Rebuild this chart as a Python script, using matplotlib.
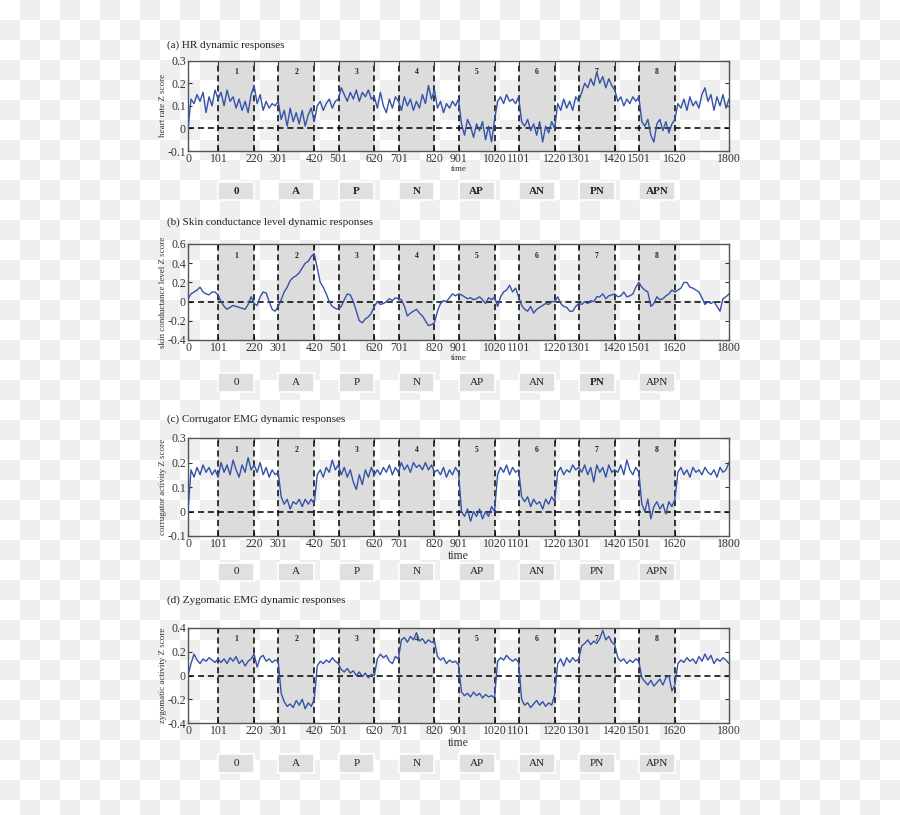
import numpy as np
import matplotlib
matplotlib.use('Agg')
import matplotlib.pyplot as plt
from matplotlib.colors import ListedColormap
from matplotlib.patches import Rectangle
from matplotlib.transforms import blended_transform_factory

plt.rcParams['font.family'] = ['Liberation Serif', 'DejaVu Serif']

# Z score traces, read every 10 time units from 0 to 1800
hr = [0.00,
      0.13, 0.11, 0.15, 0.12, 0.16, 0.07, 0.14, 0.10, 0.17, 0.13,
      0.16, 0.10, 0.17, 0.12, 0.14, 0.09, 0.13, 0.08, 0.12, 0.07, 0.15, 0.19,
      0.11, 0.15, 0.08, 0.12, 0.09, 0.11, 0.10, 0.12,
      0.04, 0.08, 0.01, 0.09, 0.03, 0.07, 0.02, 0.08, 0.01, 0.06, 0.09, 0.03,
      0.10, 0.12, 0.08, 0.11, 0.13, 0.09, 0.12, 0.13,
      0.18, 0.15, 0.12, 0.16, 0.13, 0.17, 0.12, 0.16, 0.14, 0.17, 0.13, 0.14,
      0.09, 0.16, 0.10, 0.07, 0.13, 0.09, 0.14, 0.12,
      0.08, 0.14, 0.10, 0.13, 0.08, 0.12, 0.09, 0.15, 0.11, 0.19, 0.13, 0.17,
      0.09, 0.12, 0.07, 0.11, 0.09, 0.12, 0.10, 0.13,
      0.02, -0.03, 0.04, 0.01, -0.04, 0.02, -0.01, 0.03, -0.05, 0.01, -0.06, 0.04,
      0.12, 0.14, 0.11, 0.15, 0.12, 0.13, 0.11, 0.14,
      0.03, 0.01, 0.04, -0.01, 0.02, -0.03, 0.03, -0.06, 0.01, -0.02, 0.03, 0.00,
      0.11, 0.08, 0.13, 0.09, 0.12, 0.08, 0.14, 0.12,
      0.16, 0.20, 0.18, 0.22, 0.19, 0.25, 0.20, 0.23, 0.18, 0.22, 0.19, 0.17,
      0.12, 0.14, 0.10, 0.13, 0.11, 0.14, 0.12, 0.14,
      0.03, 0.01, 0.04, -0.03, -0.06, 0.02, 0.04, -0.01, 0.03, -0.02, 0.02, 0.04,
      0.11, 0.09, 0.13, 0.08, 0.14, 0.10, 0.12, 0.09, 0.15, 0.18, 0.12, 0.15,
      0.08, 0.14, 0.10, 0.15, 0.09, 0.13]

scl = [0.03,
       0.08, 0.10, 0.12, 0.15, 0.10, 0.08, 0.07, 0.10, 0.10, 0.07,
       0.00, -0.05, -0.08, -0.06, -0.04, -0.05, -0.06, -0.07, -0.08, -0.03, 0.05, -0.02,
       -0.04, 0.05, 0.10, 0.09, 0.00, -0.08, -0.10, -0.05,
       0.02, 0.10, 0.15, 0.22, 0.25, 0.27, 0.30, 0.35, 0.40, 0.42, 0.47, 0.50,
       0.35, 0.20, 0.15, 0.08, 0.00, -0.05, -0.07, -0.08,
       -0.05, 0.02, 0.08, 0.07, 0.00, -0.10, -0.20, -0.22, -0.18, -0.16, -0.12, -0.05,
       0.00, -0.03, -0.02, 0.00, 0.03, 0.01, 0.04, 0.03,
       0.02, -0.05, -0.15, -0.12, -0.10, -0.08, -0.12, -0.15, -0.20, -0.25, -0.24, -0.22,
       -0.10, -0.02, 0.01, 0.00, 0.04, 0.08, 0.06, 0.08,
       0.07, 0.05, 0.03, 0.04, 0.02, 0.03, 0.05, 0.02, -0.02, 0.04, 0.02, 0.05,
       -0.05, 0.05, 0.10, 0.12, 0.17, 0.10, 0.14, 0.05,
       -0.04, -0.08, -0.10, -0.05, -0.12, -0.08, -0.06, -0.04, -0.02, -0.03, 0.00, 0.00,
       0.05, -0.02, -0.05, -0.06, -0.10, -0.10, -0.05, -0.02,
       -0.03, 0.00, -0.02, 0.01, 0.00, 0.05, 0.05, 0.08, 0.03, 0.06, 0.07, 0.08,
       0.05, 0.06, 0.10, 0.05, 0.06, 0.08, 0.15, 0.20,
       0.15, 0.12, 0.10, -0.05, -0.02, 0.05, 0.02, 0.03, 0.06, 0.08, 0.12, 0.10,
       0.12, 0.14, 0.20, 0.20, 0.15, 0.14, 0.12, 0.10, 0.04, -0.03, 0.00, -0.02,
       0.00, -0.05, -0.10, 0.03, 0.05, 0.08]

corr = [0.00,
        0.17, 0.14, 0.18, 0.15, 0.19, 0.16, 0.18, 0.15, 0.17, 0.14,
        0.20, 0.16, 0.19, 0.15, 0.21, 0.17, 0.14, 0.19, 0.16, 0.22, 0.17, 0.19,
        0.16, 0.20, 0.15, 0.18, 0.14, 0.17, 0.15, 0.16,
        0.06, 0.03, 0.05, 0.01, 0.04, 0.03, 0.05, 0.02, 0.05, 0.03, 0.05, 0.03,
        0.15, 0.17, 0.14, 0.18, 0.16, 0.21, 0.17, 0.19,
        0.15, 0.18, 0.14, 0.17, 0.12, 0.09, 0.15, 0.11, 0.17, 0.14, 0.18, 0.15,
        0.17, 0.15, 0.18, 0.16, 0.19, 0.15, 0.18, 0.16,
        0.20, 0.17, 0.19, 0.16, 0.20, 0.18, 0.19, 0.17, 0.20, 0.17, 0.19, 0.16,
        0.17, 0.15, 0.18, 0.14, 0.17, 0.15, 0.18, 0.16,
        0.00, -0.02, 0.01, -0.04, 0.00, -0.02, 0.01, -0.03, 0.00, -0.02, 0.02, 0.00,
        0.15, 0.18, 0.16, 0.19, 0.15, 0.18, 0.16, 0.17,
        0.06, 0.04, 0.06, 0.02, 0.05, 0.03, 0.04, 0.01, 0.05, 0.03, 0.06, 0.04,
        0.16, 0.18, 0.15, 0.17, 0.16, 0.19, 0.17, 0.18,
        0.16, 0.19, 0.15, 0.18, 0.12, 0.19, 0.16, 0.18, 0.14, 0.19, 0.16, 0.17,
        0.16, 0.19, 0.15, 0.21, 0.17, 0.15, 0.18, 0.16,
        0.03, 0.00, 0.05, -0.03, 0.02, 0.04, 0.01, 0.03, -0.01, 0.04, 0.02, 0.05,
        0.16, 0.18, 0.15, 0.17, 0.14, 0.18, 0.16, 0.17, 0.15, 0.18, 0.16, 0.15,
        0.17, 0.14, 0.18, 0.16, 0.17, 0.20]

zyg = [0.00,
       0.10, 0.18, 0.13, 0.10, 0.14, 0.12, 0.15, 0.13, 0.11, 0.14,
       0.11, 0.14, 0.10, 0.15, 0.12, 0.16, 0.10, 0.13, 0.08, 0.12, 0.14, 0.18,
       0.07, 0.15, 0.17, 0.12, 0.14, 0.11, 0.13, 0.12,
       -0.15, -0.22, -0.26, -0.24, -0.27, -0.21, -0.25, -0.20, -0.28, -0.23, -0.26, -0.20,
       0.08, 0.12, 0.10, 0.13, 0.11, 0.15, 0.12, 0.10,
       0.05, 0.03, 0.06, 0.02, 0.04, 0.00, 0.03, -0.01, 0.02, -0.02, 0.01, 0.00,
       0.14, 0.18, 0.15, 0.17, 0.12, 0.10, 0.16, 0.14,
       0.30, 0.32, 0.28, 0.33, 0.30, 0.36, 0.29, 0.31, 0.27, 0.30, 0.28, 0.29,
       0.16, 0.13, 0.15, 0.10, 0.13, 0.11, 0.12, 0.09,
       -0.14, -0.17, -0.15, -0.18, -0.14, -0.17, -0.15, -0.19, -0.16, -0.18, -0.17, -0.19,
       0.12, 0.15, 0.13, 0.17, 0.14, 0.12, 0.14, 0.11,
       -0.20, -0.25, -0.23, -0.27, -0.24, -0.21, -0.25, -0.22, -0.26, -0.23, -0.25, -0.16,
       0.10, 0.14, 0.08, 0.15, 0.11, 0.15, 0.12, 0.14,
       0.25, 0.27, 0.30, 0.26, 0.29, 0.27, 0.31, 0.38, 0.30, 0.33, 0.28, 0.26,
       0.15, 0.12, 0.14, 0.10, 0.13, 0.11, 0.14, 0.12,
       -0.02, -0.05, -0.08, -0.04, -0.09, -0.06, -0.03, -0.08, -0.02, 0.00, -0.13, -0.08,
       0.10, 0.13, 0.11, 0.15, 0.12, 0.14, 0.10, 0.16, 0.12, 0.18, 0.13, 0.17,
       0.10, 0.14, 0.12, 0.15, 0.13, 0.10]

series = [hr, scl, corr, zyg]

blocks = [(101, 220), (301, 420), (501, 620), (701, 820),
          (901, 1020), (1101, 1220), (1301, 1420), (1501, 1620)]
block_ids = ['1', '2', '3', '4', '5', '6', '7', '8']
conditions = ['0', 'A', 'P', 'N', 'AP', 'AN', 'PN', 'APN']
xticks = [0, 101, 220, 301, 420, 501, 620, 701, 820, 901, 1020,
          1101, 1220, 1301, 1420, 1501, 1620, 1800]

titles = ['(a) HR dynamic responses',
          '(b) Skin conductance level dynamic responses',
          '(c) Corrugator EMG dynamic responses',
          '(d) Zygomatic EMG dynamic responses']
ylabels = ['heart rate Z score', 'skin conductance level Z score',
           'corrugator activity Z score', 'zygomatic activity Z score']
ylims = [(-0.1, 0.3), (-0.4, 0.6), (-0.1, 0.3), (-0.4, 0.4)]
yticks = [[-0.1, 0, 0.1, 0.2, 0.3],
          [-0.4, -0.2, 0, 0.2, 0.4, 0.6],
          [-0.1, 0, 0.1, 0.2, 0.3],
          [-0.4, -0.2, 0, 0.2, 0.4]]
bold_conditions = [set(conditions), {'PN'}, set(), set()]

# layout in pixels (figure is 900 x 815)
W, H = 900, 815
ax_left, ax_right = 188, 729
ax_rows = [(60.7, 151), (244, 340), (438, 536), (628, 723)]
box_rows = [(182, 200), (373, 392), (563, 581), (754, 773)]
title_y = [45, 222, 419, 600]
time_size = [6.5, 6.5, 8.5, 8.5]

line_col = '#3452a8'
shade_col = '#dcdcdc'

fig = plt.figure(figsize=(W / 100, H / 100), dpi=100)

# transparent-image checkerboard behind everything
bg = fig.add_axes([0, 0, 1, 1], zorder=-10)
rows, cols = 41, 45
checker = np.add.outer(np.arange(rows), np.arange(cols)) % 2
bg.imshow(checker, cmap=ListedColormap(['white', '#efefef']),
          extent=(0, cols * 20, rows * 20, 0), interpolation='nearest', aspect='auto')
bg.set_xlim(0, W)
bg.set_ylim(H, 0)
bg.axis('off')

for i, y in enumerate(series):
    top, bot = ax_rows[i]
    ax = fig.add_axes([ax_left / W, 1 - bot / H, (ax_right - ax_left) / W, (bot - top) / H])
    ax.set_facecolor('none')

    x = np.linspace(0, 1800, len(y))
    for (a, b), bid in zip(blocks, block_ids):
        ax.axvspan(a, b, color=shade_col, lw=0, zorder=0)
        for xv in (a, b):
            ax.axvline(xv, color='k', ls=(0, (4, 2.5)), lw=1.1, zorder=2)
        ax.text((a + b) / 2, 0.88, bid, transform=blended_transform_factory(ax.transData, ax.transAxes),
                ha='center', va='center', fontsize=5.5, fontweight='bold', color='#222222')
    ax.axhline(0, color='k', ls=(0, (4, 2.5)), lw=1.1, zorder=2)
    ax.plot(x, y, color=line_col, lw=1.0, zorder=3)

    ax.set_xlim(0, 1800)
    ax.set_ylim(*ylims[i])
    ax.set_xticks(xticks)
    ax.set_xticklabels([str(v) for v in xticks])
    ax.set_yticks(yticks[i])
    ax.set_yticklabels(['0' if v == 0 else f'{v:g}' for v in yticks[i]])
    ax.tick_params(direction='in', top=True, right=True, length=3, width=0.8,
                   labelsize=8.5, pad=1.5, colors='#333333')
    for sp in ax.spines.values():
        sp.set_color('#555555')
        sp.set_linewidth(1.0)
    ax.set_xlabel('time', fontsize=time_size[i], labelpad=0, color='#333333')
    ax.set_ylabel(ylabels[i], fontsize=6.5, labelpad=0, color='#333333')

    fig.text(167 / W, 1 - title_y[i] / H, titles[i], fontsize=8, va='center', color='#222222')

    # condition boxes under each shaded block
    btop, bbot = box_rows[i]
    tr = blended_transform_factory(ax.transData, fig.transFigure)
    for (a, b), cond in zip(blocks, conditions):
        ax.add_patch(Rectangle((a, 1 - bbot / H), b - a, (bbot - btop) / H, transform=tr,
                               facecolor='#e0e0e0', edgecolor='white', lw=1.2, clip_on=False))
        ax.text((a + b) / 2, 1 - (btop + bbot) / 2 / H, cond, transform=tr, ha='center', va='center',
                fontsize=8, color='#222222',
                fontweight='bold' if cond in bold_conditions[i] else 'normal')

fig.savefig('out.png', dpi=100)
